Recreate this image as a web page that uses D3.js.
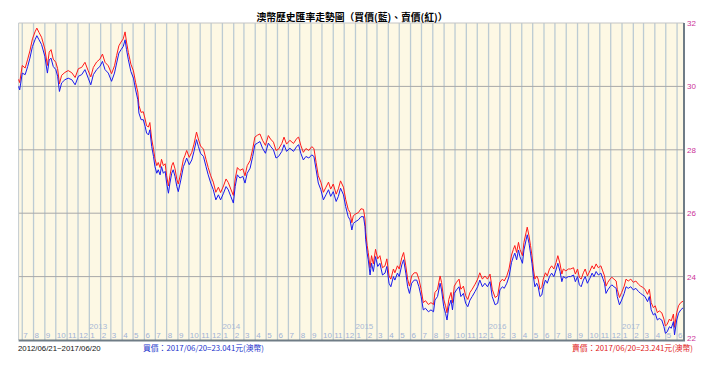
<!DOCTYPE html>
<html>
<head>
<meta charset="utf-8">
<script src="https://cdn.jsdelivr.net/npm/d3@7"></script>
<style>
  body { margin: 0; background: #fff; }
  svg { display: block; }
</style>
</head>
<body>
<div id="chart"></div>
<script>
// Period shown, and the points (days counted from the start date)
const startDate = new Date(2012, 5, 21)
const endDate = new Date(2017, 5, 20)

const dayOffset = [
  0, 3, 10, 18, 25, 31, 38, 45, 50, 56,
  63, 72, 79, 84, 89, 95, 102, 107, 112, 118,
  127, 136, 146, 155, 164, 173, 182, 191, 198, 205,
  214, 223, 230, 237, 246, 255, 263, 269, 275, 281,
  287, 292, 296, 301, 308, 315, 321, 327, 330, 336,
  342, 347, 351, 356, 360, 365, 370, 374, 379, 383,
  388, 392, 397, 402, 406, 411, 415, 420, 424, 429,
  434, 438, 445, 452, 456, 461, 468, 475, 481, 488,
  493, 499, 507, 514, 520, 527, 534, 541, 548, 554,
  562, 569, 575, 582, 589, 594, 600, 607, 615, 621,
  627, 635, 642, 648, 655, 662, 669, 677, 685, 691,
  699, 706, 713, 722, 728, 735, 744, 754, 763, 768,
  774, 781, 788, 796, 804, 810, 816, 822, 829, 836,
  843, 850, 856, 863, 871, 877, 883, 891, 897, 904,
  909, 914, 918, 925, 932, 939, 946, 950, 952, 956,
  959, 964, 968, 973, 979, 985, 991, 998, 1005, 1010,
  1016, 1021, 1028, 1032, 1039, 1044, 1051, 1056, 1062, 1067,
  1072, 1078, 1085, 1092, 1098, 1104, 1110, 1116, 1124, 1131,
  1138, 1142, 1149, 1156, 1160, 1166, 1171, 1175, 1180, 1186,
  1190, 1195, 1201, 1208, 1213, 1220, 1226, 1232, 1238, 1244,
  1252, 1259, 1265, 1272, 1279, 1286, 1293, 1299, 1307, 1314,
  1320, 1327, 1332, 1339, 1345, 1352, 1357, 1361, 1366, 1371,
  1375, 1382, 1386, 1392, 1395, 1400, 1404, 1408, 1412, 1416,
  1421, 1425, 1430, 1435, 1439, 1445, 1450, 1456, 1462, 1468,
  1474, 1479, 1485, 1490, 1494, 1501, 1508, 1514, 1522, 1527,
  1533, 1538, 1543, 1549, 1554, 1560, 1567, 1573, 1578, 1584,
  1590, 1597, 1602, 1607, 1611, 1616, 1622, 1627, 1633, 1639,
  1642, 1648, 1654, 1661, 1666, 1672, 1679, 1686, 1693, 1700,
  1706, 1712, 1718, 1725, 1730, 1735, 1741, 1746, 1752, 1757,
  1764, 1770, 1774, 1779, 1785, 1790, 1796, 1799, 1805, 1810,
  1816, 1825
]

// 買價 (blue)
const buyRate = [
  30.00, 29.89, 30.42, 30.37, 30.63, 30.89, 31.26, 31.47, 31.60, 31.47,
  31.32, 30.95, 30.42, 30.84, 30.89, 30.63, 30.53, 30.32, 29.84, 30.11,
  30.21, 30.26, 30.21, 30.05, 30.32, 30.37, 30.53, 30.26, 30.05, 30.37,
  30.53, 30.63, 30.79, 30.53, 30.42, 30.16, 30.42, 30.74, 31.05, 31.16,
  31.26, 31.47, 31.16, 30.84, 30.47, 30.26, 29.89, 29.58, 29.16, 28.95,
  28.95, 28.74, 28.53, 28.47, 28.63, 28.11, 27.79, 27.47, 27.26, 27.37,
  27.21, 27.47, 27.26, 27.32, 26.95, 26.63, 26.95, 27.26, 27.37, 27.16,
  26.84, 26.68, 27.05, 27.47, 27.58, 27.74, 27.53, 27.68, 27.95, 28.32,
  28.11, 27.89, 27.79, 27.47, 27.21, 26.95, 26.74, 26.42, 26.58, 26.42,
  26.63, 26.84, 26.74, 26.53, 26.32, 26.84, 27.21, 27.11, 27.16, 26.95,
  27.26, 27.42, 27.79, 28.16, 28.21, 28.26, 28.05, 27.89, 28.21, 28.11,
  28.00, 27.74, 27.79, 27.95, 28.16, 27.95, 28.05, 27.95, 28.11, 28.16,
  27.89, 27.68, 27.79, 27.74, 27.84, 27.79, 27.37, 26.95, 26.74, 26.42,
  26.58, 26.74, 26.53, 26.68, 26.37, 26.53, 26.79, 26.58, 26.21, 25.89,
  25.79, 25.47, 25.68, 25.74, 25.79, 25.89, 25.89, 25.58, 25.16, 24.74,
  24.53, 24.05, 24.42, 24.16, 24.63, 24.32, 24.42, 24.05, 24.11, 24.32,
  23.79, 23.68, 24.00, 23.89, 24.11, 24.00, 24.37, 24.53, 24.11, 23.68,
  23.47, 23.79, 23.89, 23.89, 23.68, 23.37, 22.95, 23.00, 22.89, 22.95,
  22.89, 23.26, 23.37, 23.79, 23.58, 23.05, 22.84, 22.63, 23.05, 23.26,
  22.95, 23.47, 23.58, 23.68, 23.37, 23.47, 23.16, 23.05, 23.26, 23.37,
  23.53, 23.68, 23.89, 23.68, 23.79, 23.68, 23.84, 23.37, 23.11, 23.16,
  23.58, 23.68, 23.63, 23.79, 24.00, 24.45, 24.63, 24.74, 24.53, 24.84,
  24.63, 24.42, 24.84, 25.16, 25.32, 25.05, 24.74, 24.42, 24.00, 23.68,
  23.79, 23.68, 23.37, 23.42, 23.68, 23.89, 23.79, 24.00, 24.11, 24.00,
  24.21, 24.42, 24.16, 23.84, 24.00, 23.95, 24.00, 24.00, 24.05, 23.84,
  24.00, 23.74, 23.68, 23.89, 24.00, 23.79, 23.95, 24.11, 24.00, 24.16,
  24.05, 24.11, 23.95, 23.79, 23.47, 23.58, 23.68, 23.74, 23.68, 23.63,
  23.37, 23.11, 23.26, 23.47, 23.68, 23.63, 23.68, 23.58, 23.63, 23.53,
  23.47, 23.42, 23.37, 23.21, 23.37, 22.95, 22.79, 22.84, 22.63, 22.68,
  22.63, 22.42, 22.21, 22.26, 22.42, 22.37, 22.58, 22.16, 22.63, 22.84,
  22.95, 23.04
]

// 賣價 (red)
const sellRate = [
  30.22, 30.12, 30.66, 30.58, 30.86, 31.12, 31.50, 31.72, 31.84, 31.70,
  31.55, 31.18, 30.66, 31.08, 31.16, 30.86, 30.76, 30.56, 30.08, 30.35,
  30.44, 30.50, 30.43, 30.28, 30.56, 30.60, 30.76, 30.49, 30.30, 30.60,
  30.77, 30.86, 31.02, 30.76, 30.65, 30.40, 30.65, 30.98, 31.28, 31.40,
  31.50, 31.72, 31.40, 31.07, 30.70, 30.49, 30.12, 29.82, 29.40, 29.18,
  29.20, 28.97, 28.76, 28.72, 28.86, 28.34, 28.02, 27.72, 27.50, 27.60,
  27.44, 27.70, 27.50, 27.56, 27.18, 26.86, 27.18, 27.50, 27.60, 27.40,
  27.07, 26.92, 27.28, 27.70, 27.81, 27.98, 27.76, 27.92, 28.18, 28.56,
  28.34, 28.12, 28.02, 27.70, 27.44, 27.18, 26.98, 26.66, 26.82, 26.65,
  26.86, 27.08, 26.97, 26.76, 26.56, 27.08, 27.44, 27.35, 27.40, 27.18,
  27.50, 27.66, 28.02, 28.40, 28.46, 28.50, 28.30, 28.14, 28.45, 28.34,
  28.24, 27.98, 28.02, 28.20, 28.40, 28.18, 28.30, 28.20, 28.36, 28.40,
  28.14, 27.92, 28.04, 27.98, 28.10, 28.04, 27.60, 27.18, 26.98, 26.66,
  26.82, 26.98, 26.76, 26.92, 26.60, 26.77, 27.02, 26.82, 26.44, 26.12,
  26.02, 25.70, 25.92, 25.98, 26.02, 26.14, 26.12, 25.82, 25.40, 24.98,
  24.76, 24.28, 24.66, 24.40, 24.86, 24.56, 24.66, 24.28, 24.34, 24.56,
  24.02, 23.92, 24.24, 24.12, 24.34, 24.24, 24.60, 24.76, 24.34, 23.92,
  23.70, 24.02, 24.12, 24.12, 23.92, 23.60, 23.18, 23.24, 23.12, 23.18,
  23.12, 23.50, 23.60, 24.02, 23.82, 23.28, 23.08, 22.86, 23.28, 23.50,
  23.18, 23.70, 23.82, 23.92, 23.60, 23.70, 23.40, 23.28, 23.50, 23.60,
  23.76, 23.92, 24.12, 23.92, 24.02, 23.92, 24.08, 23.60, 23.34, 23.40,
  23.82, 23.92, 23.86, 24.02, 24.24, 24.68, 24.86, 24.98, 24.76, 25.08,
  24.86, 24.66, 25.08, 25.40, 25.56, 25.28, 24.98, 24.66, 24.24, 23.92,
  24.02, 23.92, 23.60, 23.66, 23.92, 24.12, 24.02, 24.24, 24.34, 24.24,
  24.44, 24.66, 24.40, 24.08, 24.24, 24.18, 24.24, 24.24, 24.28, 24.08,
  24.24, 23.98, 23.92, 24.12, 24.24, 24.02, 24.18, 24.34, 24.24, 24.40,
  24.28, 24.34, 24.18, 24.02, 23.70, 23.82, 23.92, 23.98, 23.92, 23.86,
  23.60, 23.34, 23.50, 23.70, 23.92, 23.86, 23.92, 23.82, 23.86, 23.76,
  23.70, 23.66, 23.60, 23.44, 23.60, 23.18, 23.02, 23.08, 22.86, 22.92,
  22.86, 22.66, 22.44, 22.50, 22.66, 22.60, 22.82, 22.40, 22.86, 23.08,
  23.18, 23.24
]

const yTicks = [22, 24, 26, 28, 30, 32]
const titleText = '澳幣歷史匯率走勢圖（買價(藍)、賣價(紅)）'
const rangeText = '2012/06/21~2017/06/20'
const buyText = '買價：2017/06/20=23.041元(澳幣)'
const sellText = '賣價：2017/06/20=23.241元(澳幣)'

const width = 720
const height = 369
const plot = { left: 18.6, right: 684, top: 23, bottom: 340 }

const data = dayOffset.map((d, i) => ({
  date: d3.timeDay.offset(startDate, d),
  buy: buyRate[i],
  sell: sellRate[i]
}))

const x = d3.scaleTime()
  .domain([startDate, endDate])
  .range([plot.left, plot.right])

const y = d3.scaleLinear()
  .domain([22, 32])
  .range([plot.bottom, plot.top])

const svg = d3.select('#chart')
  .append('svg')
  .attr('width', width)
  .attr('height', height)
  .attr('viewBox', [0, 0, width, height])

const smallFont = 'Liberation Sans, Arial, sans-serif'
const cjkFont = '"Noto Sans CJK TC", "Noto Sans CJK SC", sans-serif'

// cream plot background
svg.append('rect')
  .attr('x', plot.left)
  .attr('y', plot.top)
  .attr('width', plot.right - plot.left)
  .attr('height', plot.bottom - plot.top)
  .attr('fill', '#fdf8e4')

// monthly vertical grid lines with month numbers, year on each January
const months = d3.timeMonth.range(d3.timeMonth.ceil(startDate), endDate)

svg.append('g')
  .selectAll('line')
  .data(months)
  .join('line')
  .attr('x1', d => x(d))
  .attr('x2', d => x(d))
  .attr('y1', plot.top)
  .attr('y2', plot.bottom)
  .attr('stroke', '#bccbd3')
  .attr('stroke-width', 1.3)

svg.append('g')
  .selectAll('text')
  .data(months)
  .join('text')
  .attr('x', d => x(d) + 1)
  .attr('y', 338)
  .attr('font-family', smallFont)
  .attr('font-size', 8)
  .attr('fill', '#9fb2d6')
  .text(d => d3.timeFormat('%-m')(d))

svg.append('g')
  .selectAll('text')
  .data(months.filter(d => d.getMonth() === 0))
  .join('text')
  .attr('x', d => x(d))
  .attr('y', 329)
  .attr('font-family', smallFont)
  .attr('font-size', 8)
  .attr('fill', '#a9b9d6')
  .text(d => d.getFullYear())

// horizontal grid lines
svg.append('g')
  .selectAll('line')
  .data(yTicks.filter(d => d > 22))
  .join('line')
  .attr('x1', plot.left)
  .attr('x2', plot.right)
  .attr('y1', d => y(d))
  .attr('y2', d => y(d))
  .attr('stroke', d => d === 32 ? '#c4c4c4' : '#a8a8a8')
  .attr('stroke-width', 1)

// left border
svg.append('line')
  .attr('x1', plot.left).attr('x2', plot.left)
  .attr('y1', plot.top).attr('y2', plot.bottom)
  .attr('stroke', '#c4ccd0')

// right axis labels
svg.append('g')
  .selectAll('text')
  .data(yTicks)
  .join('text')
  .attr('x', plot.right + 3)
  .attr('y', d => d === 22 ? y(d) + 1 : y(d) + 3)
  .attr('font-family', smallFont)
  .attr('font-size', 8)
  .attr('fill', '#cc3399')
  .text(d => d)

// the two price lines
const buyLine = d3.line()
  .x(d => x(d.date))
  .y(d => y(d.buy))

const sellLine = d3.line()
  .x(d => x(d.date))
  .y(d => y(d.sell))

svg.append('path')
  .datum(data)
  .attr('fill', 'none')
  .attr('stroke', '#ff1a1a')
  .attr('stroke-width', 1)
  .attr('d', sellLine)

svg.append('path')
  .datum(data)
  .attr('fill', 'none')
  .attr('stroke', '#1a1aee')
  .attr('stroke-width', 1)
  .attr('d', buyLine)

// dark right and bottom frame
svg.append('line')
  .attr('x1', plot.right).attr('x2', plot.right)
  .attr('y1', plot.top).attr('y2', plot.bottom + 1)
  .attr('stroke', '#6f7c86')
  .attr('stroke-width', 2)

svg.append('line')
  .attr('x1', plot.left).attr('x2', plot.right + 1)
  .attr('y1', plot.bottom + 0.5).attr('y2', plot.bottom + 0.5)
  .attr('stroke', '#6f7c86')
  .attr('stroke-width', 2)

// title
svg.append('text')
  .attr('x', 352)
  .attr('y', 21)
  .attr('text-anchor', 'middle')
  .attr('font-family', cjkFont)
  .attr('font-size', 9.8)
  .attr('font-weight', 'bold')
  .attr('fill', '#000')
  .text(titleText)

// footer texts
svg.append('text')
  .attr('x', 18)
  .attr('y', 351)
  .attr('font-family', smallFont)
  .attr('font-size', 7.8)
  .attr('fill', '#111')
  .text(rangeText)

svg.append('text')
  .attr('x', 143)
  .attr('y', 351)
  .attr('font-family', cjkFont)
  .attr('font-size', 7.8)
  .attr('fill', '#2233cc')
  .text(buyText)

svg.append('text')
  .attr('x', 693)
  .attr('y', 351)
  .attr('text-anchor', 'end')
  .attr('font-family', cjkFont)
  .attr('font-size', 7.8)
  .attr('fill', '#e02020')
  .text(sellText)
</script>
</body>
</html>
